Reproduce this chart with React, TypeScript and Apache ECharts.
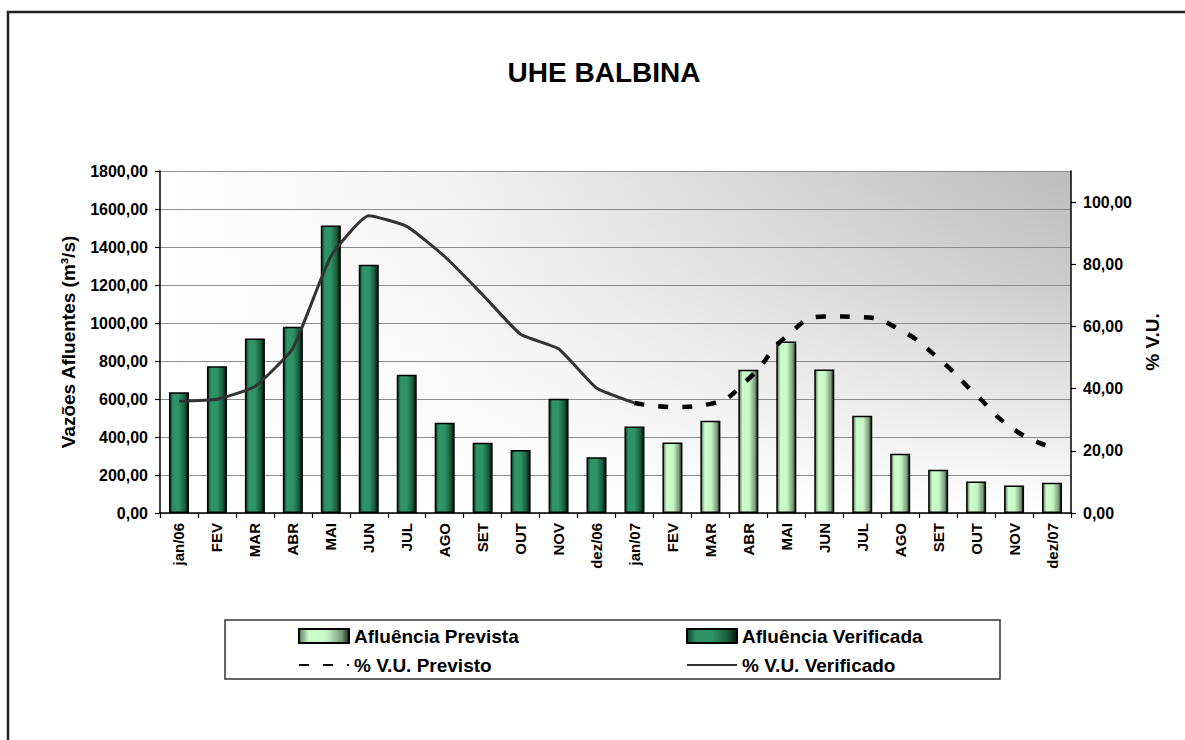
import React, { useEffect, useRef } from "react";
import * as echarts from "echarts";

const categories = [
  "jan/06", "FEV", "MAR", "ABR", "MAI", "JUN", "JUL", "AGO", "SET", "OUT", "NOV", "dez/06",
  "jan/07", "FEV", "MAR", "ABR", "MAI", "JUN", "JUL", "AGO", "SET", "OUT", "NOV", "dez/07",
];

// Afluência Verificada (m3/s), jan/06 .. jan/07
const afluenciaVerificada = [636, 773, 918, 980, 1513, 1307, 727, 475, 370, 331, 601, 294, 455];
// Afluência Prevista (m3/s), FEV/07 .. dez/07
const afluenciaPrevista = [371, 485, 754, 902, 755, 512, 312, 228, 166, 145, 159];
// % V.U. Verificado, jan/06 .. jan/07
const vuVerificado = [36.0, 36.6, 40.7, 53.0, 82.5, 95.6, 92.2, 82.5, 70.2, 57.5, 52.8, 40.2, 35.4];
// % V.U. Previsto, jan/07 .. dez/07
const vuPrevisto = [35.4, 34.1, 35.1, 43.1, 56.8, 63.2, 63.0, 58.9, 49.8, 38.0, 26.8, 21.1];

const leftTicks = [0, 200, 400, 600, 800, 1000, 1200, 1400, 1600, 1800];
const rightTicks = [0, 20, 40, 60, 80, 100];

const FONT = 'Arial, "Liberation Sans", sans-serif';
const fmt = (v: number) => v.toFixed(2).replace(".", ",");

export default function App() {
  const ref = useRef<HTMLDivElement>(null);
  useEffect(() => {
    document.body.style.margin = "0";
    if (!ref.current) return;
    const chart = echarts.init(ref.current, undefined, { renderer: "svg" });
    const n = categories.length;
    const verData = categories.map((_, i) => (i < afluenciaVerificada.length ? afluenciaVerificada[i] : null));
    const preStart = n - afluenciaPrevista.length;
    const preData = categories.map((_, i) => (i >= preStart ? afluenciaPrevista[i - preStart] : null));
    const vuVerData = categories.map((_, i) => (i < vuVerificado.length ? vuVerificado[i] : null));
    const vuPreStart = n - vuPrevisto.length;
    const vuPreData = categories.map((_, i) => (i >= vuPreStart ? vuPrevisto[i - vuPreStart] : null));

    const gL = 160, gT = 171, gW = 911, gH = 342;

    const darkGrad = new echarts.graphic.LinearGradient(0, 0, 1, 0, [
      { offset: 0, color: "#0f3d28" },
      { offset: 0.18, color: "#2e9466" },
      { offset: 0.5, color: "#2e9466" },
      { offset: 0.8, color: "#1c5e40" },
      { offset: 1, color: "#04140c" },
    ]);
    const lightGrad = new echarts.graphic.LinearGradient(0, 0, 1, 0, [
      { offset: 0, color: "#5e7a5e" },
      { offset: 0.2, color: "#ccffcc" },
      { offset: 0.55, color: "#c6f6c6" },
      { offset: 0.85, color: "#7d9c7d" },
      { offset: 1, color: "#1a281a" },
    ]);

    const legendText = {
      fontSize: 19,
      fontWeight: "bold",
      fontFamily: FONT,
      color: "#000",
      width: 300,
      lineHeight: 20,
    };

    chart.setOption({
      animation: false,
      backgroundColor: "#ffffff",
      grid: { left: gL, top: gT, width: gW, height: gH, containLabel: false },
      graphic: [
        {
          type: "rect",
          z: -10,
          shape: { x: gL, y: gT, width: gW, height: gH },
          style: {
            fill: new echarts.graphic.LinearGradient(0, 0, 1, 0, [
              { offset: 0, color: "#ffffff" },
              { offset: 0.3, color: "#f4f4f4" },
              { offset: 1, color: "#bcbcbc" },
            ]),
          },
          silent: true,
        },
        {
          type: "rect",
          z: -9,
          shape: { x: gL, y: gT, width: gW, height: gH },
          style: {
            fill: new echarts.graphic.LinearGradient(0, 0, 0, 1, [
              { offset: 0, color: "rgba(255,255,255,0)" },
              { offset: 0.35, color: "rgba(255,255,255,0.25)" },
              { offset: 1, color: "rgba(255,255,255,1)" },
            ]),
          },
          silent: true,
        },
        {
          type: "rect",
          z: 50,
          shape: { x: 8, y: 12, width: 1300, height: 900 },
          style: { fill: "none", stroke: "#222", lineWidth: 2.5 },
          silent: true,
        },
        {
          type: "rect",
          z: 50,
          shape: { x: 225, y: 620, width: 775, height: 59 },
          style: { fill: "none", stroke: "#333", lineWidth: 1.5 },
          silent: true,
        },
        {
          type: "text",
          z: 50,
          x: 604,
          y: 72,
          style: {
            text: "UHE BALBINA",
            fontSize: 28,
            fontWeight: "bold",
            fontFamily: FONT,
            fill: "#000",
            align: "center",
            verticalAlign: "middle",
          },
        },
      ],
      legend: [
        {
          data: [
            { name: "Afluência Prevista", icon: "rect" },
            { name: "Afluência Verificada", icon: "rect" },
          ],
          left: 298,
          top: 626,
          itemWidth: 50,
          itemHeight: 14,
          itemGap: 32,
          padding: 0,
          textStyle: legendText,
          selectedMode: false,
        },
        {
          data: [
            { name: "% V.U. Previsto", itemStyle: { opacity: 0 } },
            { name: "% V.U. Verificado", itemStyle: { opacity: 0 } },
          ],
          left: 298,
          top: 655,
          itemWidth: 50,
          itemHeight: 14,
          itemGap: 32,
          padding: 0,
          textStyle: legendText,
          selectedMode: false,
        },
      ],
      xAxis: {
        type: "category",
        data: categories,
        boundaryGap: true,
        axisLine: { lineStyle: { color: "#000", width: 1.5 } },
        axisTick: { show: true, interval: 0, length: 5, lineStyle: { color: "#000", width: 1.2 } },
        axisLabel: {
          interval: 0,
          rotate: 90,
          margin: 10,
          fontSize: 15,
          fontWeight: "bold",
          fontFamily: FONT,
          color: "#000",
        },
      },
      yAxis: [
        {
          type: "value",
          min: 0,
          max: 1800,
          interval: 200,
          position: "left",
          name: "Vazões Afluentes (m³/s)",
          nameLocation: "middle",
          nameRotate: 90,
          nameGap: 82,
          nameTextStyle: { fontSize: 19, fontWeight: "bold", fontFamily: FONT, color: "#000" },
          axisLine: { show: true, lineStyle: { color: "#000", width: 1.5 } },
          axisTick: { show: true, length: 5, lineStyle: { color: "#000", width: 1.2 } },
          axisLabel: {
            customValues: leftTicks,
            formatter: (v: number) => fmt(v),
            margin: 12,
            fontSize: 16,
            fontWeight: "bold",
            fontFamily: FONT,
            color: "#000",
          },
          splitLine: { show: true, lineStyle: { color: "#8c8c8c", width: 1 } },
        },
        {
          type: "value",
          min: 0,
          max: 110,
          interval: 20,
          position: "right",
          name: "% V.U.",
          nameLocation: "middle",
          nameRotate: 90,
          nameGap: 72,
          nameTextStyle: { fontSize: 19, fontWeight: "bold", fontFamily: FONT, color: "#000" },
          axisLine: { show: true, lineStyle: { color: "#000", width: 1.5 } },
          axisTick: { show: true, length: 5, customValues: rightTicks, lineStyle: { color: "#000", width: 1.2 } },
          axisLabel: {
            customValues: rightTicks,
            formatter: (v: number) => fmt(v),
            margin: 12,
            fontSize: 16,
            fontWeight: "bold",
            fontFamily: FONT,
            color: "#000",
          },
          splitLine: { show: false },
        },
      ],
      series: [
        {
          name: "Afluência Verificada",
          type: "bar",
          yAxisIndex: 0,
          data: verData,
          barWidth: 20,
          barGap: "-100%",
          itemStyle: { color: darkGrad, borderColor: "#000", borderWidth: 1.5 },
          z: 2,
        },
        {
          name: "Afluência Prevista",
          type: "bar",
          yAxisIndex: 0,
          data: preData,
          barWidth: 20,
          barGap: "-100%",
          itemStyle: { color: lightGrad, borderColor: "#000", borderWidth: 1.5 },
          z: 2,
        },
        {
          name: "% V.U. Verificado",
          type: "line",
          yAxisIndex: 1,
          data: vuVerData,
          symbol: "none",
          smooth: 0.15,
          lineStyle: { color: "#333", width: 3 },
          itemStyle: { color: "#333", opacity: 0 },
          z: 5,
        },
        {
          name: "% V.U. Previsto",
          type: "line",
          yAxisIndex: 1,
          data: vuPreData,
          symbol: "none",
          smooth: 0.5,
          lineStyle: { color: "#000", width: 4.5, type: [10, 14] },
          itemStyle: { color: "#000", opacity: 0 },
          z: 5,
        },
      ],
    });
    return () => chart.dispose();
  }, []);
  return <div ref={ref} style={{ width: 1185, height: 740 }} />;
}
